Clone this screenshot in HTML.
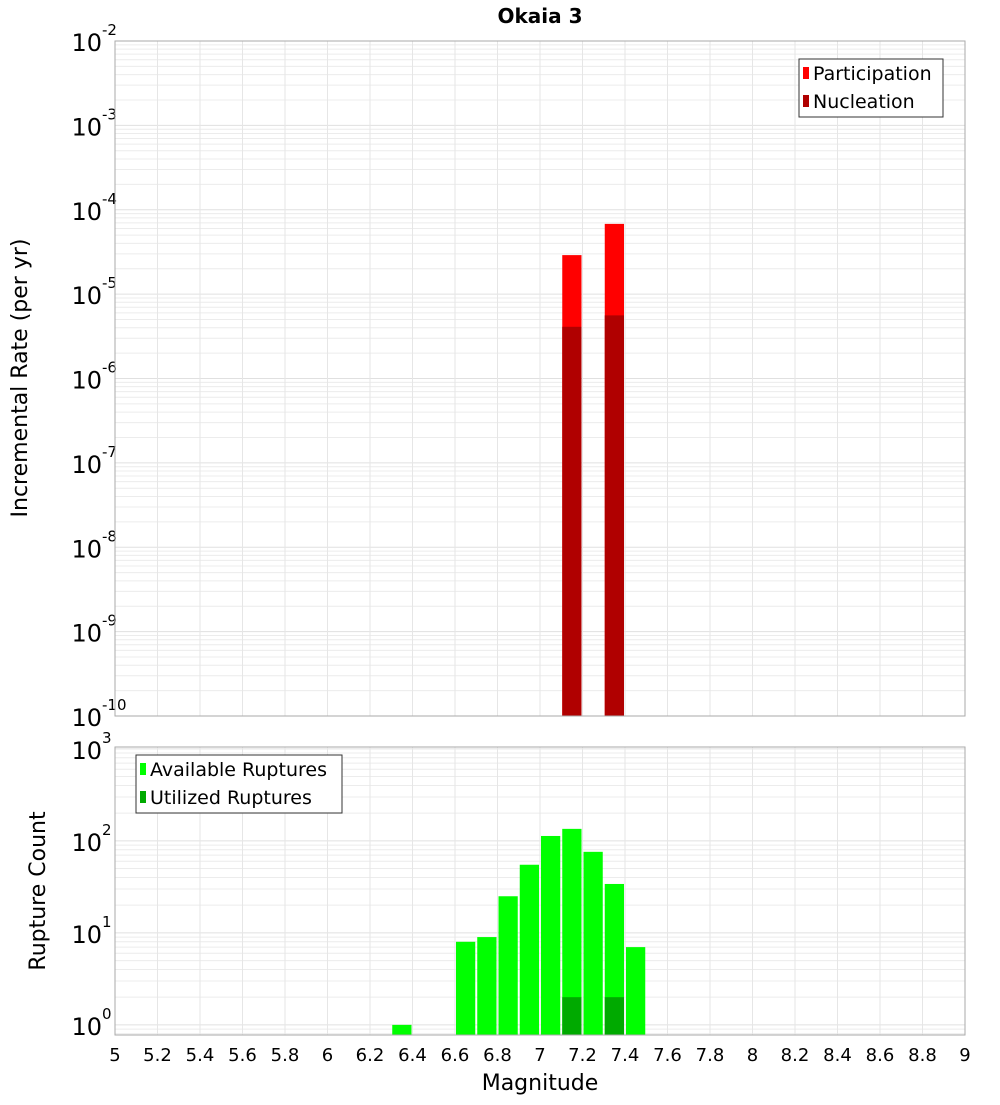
<!DOCTYPE html>
<html><head><meta charset="utf-8"><style>
body{margin:0;background:#fff;font-family:"Liberation Sans","DejaVu Sans",sans-serif}
svg text{font-family:"DejaVu Sans","Liberation Sans",sans-serif}
</style></head><body>
<svg id="c" width="1000" height="1100" xmlns="http://www.w3.org/2000/svg">
<text x="540" y="23" text-anchor="middle" font-size="20" font-weight="bold">Okaia 3</text>
<g id="gtop"></g>
<g id="gbot"></g>
<text transform="translate(27,378) rotate(-90)" text-anchor="middle" font-size="22">Incremental Rate (per yr)</text>
<text transform="translate(45,891) rotate(-90)" text-anchor="middle" font-size="22">Rupture Count</text>
<text x="540" y="1090" text-anchor="middle" font-size="22">Magnitude</text>
<g>
<rect x="799" y="59" width="144" height="58" fill="#fff" stroke="#333"/>
<rect x="803" y="67" width="6" height="12" fill="#ff0000"/><text x="813" y="80" font-size="19">Participation</text>
<rect x="803" y="95" width="6" height="12" fill="#b00000"/><text x="813" y="108" font-size="19">Nucleation</text>
</g>
<g>
<rect x="136" y="755" width="206" height="58" fill="#fff" stroke="#333"/>
<rect x="140" y="763" width="6" height="12" fill="#00ff00"/><text x="150" y="776" font-size="19">Available Ruptures</text>
<rect x="140" y="791" width="6" height="12" fill="#00aa00"/><text x="150" y="804" font-size="19">Utilized Ruptures</text>
</g>
</svg>
<script>
const rateMags=[7.1,7.3];
const participation=[2.9e-5,6.8e-5];
const nucleation=[4.1e-6,5.6e-6];
const countMags=[6.3,6.6,6.7,6.8,6.9,7.0,7.1,7.2,7.3,7.4];
const available=[1,8,9,25,55,113,135,76,34,7];
const utilizedMags=[7.1,7.3];
const utilized=[2,2];
const xTicks=["5","5.2","5.4","5.6","5.8","6","6.2","6.4","6.6","6.8","7","7.2","7.4","7.6","7.8","8","8.2","8.4","8.6","8.8","9"];
const NS="http://www.w3.org/2000/svg";
const X0=115,X1=965;
const xs=m=>X0+(m-5)/4*(X1-X0);
function el(p,t,a){const e=document.createElementNS(NS,t);for(const k in a)e.setAttribute(k,a[k]);p.appendChild(e);return e;}
function panel(g,pTop,pBot,eTop,eBot,name){
  const ys=v=>pTop+(eTop-Math.log10(v))/(eTop-eBot)*(pBot-pTop);
  const bg=el(g,'rect',{x:X0,y:pTop,width:X1-X0,height:pBot-pTop,fill:'#fff'});
  
  
  for(let e=Math.floor(eBot);e<eTop;e++)for(let k=1;k<10;k++){
    const v=k*Math.pow(10,e);const y=ys(v);
    if(y<pTop||y>pBot)continue;
    const l=el(g,'line',{x1:X0,x2:X1,y1:y,y2:y,stroke:k==1?'#e0e0e0':'#ececec','stroke-width':1});
    
    
  }
  xTicks.forEach(t=>{const x=xs(parseFloat(t));
    const l=el(g,'line',{x1:x,x2:x,y1:pTop,y2:pBot,stroke:'#e6e6e6'});
    
    });
  for(let e=Math.ceil(eBot);e<=eTop;e++){
    const y=ys(Math.pow(10,e));
    const t=el(g,'text',{x:102,y:y+10,'text-anchor':'end','font-size':24});
    t.textContent='10';
    
    
    const s=el(g,'text',{x:102,y:y-6,'font-size':15});s.textContent=String(e);
    
    
  }
  return ys;
}
const gTop=document.getElementById('gtop'),gBot=document.getElementById('gbot');
const ys1=panel(gTop,41,716,-2,-10,'rate');
rateMags.forEach((m,i)=>{
  const x=xs(m)+1,w=xs(m+0.1)-xs(m)-2;
  const r=el(gTop,'rect',{x,y:ys1(participation[i]),width:w,height:716-ys1(participation[i]),fill:'#ff0000'});
  
  
  const r2=el(gTop,'rect',{x,y:ys1(nucleation[i]),width:w,height:716-ys1(nucleation[i]),fill:'#b00000'});
  
  
});
el(gTop,'rect',{x:X0,y:41,width:X1-X0,height:675,fill:'none',stroke:'#aaa'});
const ys2=panel(gBot,747,1035,3.02,-0.11,'count');
countMags.forEach((m,i)=>{
  const x=xs(m)+1,w=xs(m+0.1)-xs(m)-2;
  const r=el(gBot,'rect',{x,y:ys2(available[i]),width:w,height:1035-ys2(available[i]),fill:'#00ff00'});
  
  
});
utilizedMags.forEach((m,i)=>{
  const x=xs(m)+1,w=xs(m+0.1)-xs(m)-2;
  const r=el(gBot,'rect',{x,y:ys2(utilized[i]),width:w,height:1035-ys2(utilized[i]),fill:'#00aa00'});
  
  
});
el(gBot,'rect',{x:X0,y:747,width:X1-X0,height:288,fill:'none',stroke:'#aaa'});
xTicks.forEach(t=>{
  const tx=el(gBot,'text',{x:xs(parseFloat(t)),y:1061,'text-anchor':'middle','font-size':18});
  tx.textContent=t;
  
  
});
</script>
</body></html>
